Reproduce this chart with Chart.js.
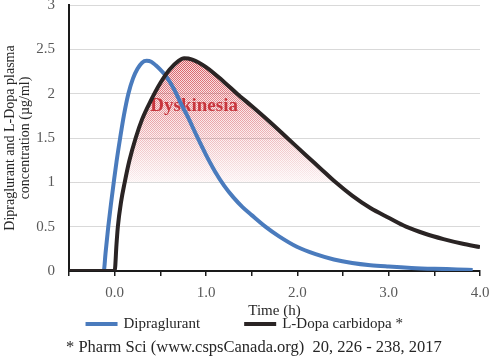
<!DOCTYPE html>
<html>
<head>
<meta charset="utf-8">
<script src="https://cdn.jsdelivr.net/npm/chart.js@4/dist/chart.umd.min.js"></script>
<style>
html,body{margin:0;padding:0;background:#fff;}
#wrap{width:490px;height:359px;position:relative;}
</style>
</head>
<body>
<div id="wrap"><canvas id="c" width="490" height="359"></canvas></div>
<script>
// ---- data ----
const seriesNames = ['Dipraglurant', 'L-Dopa carbidopa *'];
const dipraT = [-0.5,-0.12,-0.1,-0.07,-0.04,-0.01,0.02,0.06,0.1,0.15,0.2,0.25,0.3,0.35,0.4,0.45,0.5,0.56,0.65,0.73,0.8,0.9,1.0,1.1,1.2,1.3,1.4,1.5,1.65,1.8,2.0,2.2,2.4,2.6,2.8,3.0,3.25,3.5,3.75,3.92];
const dipraY = [0,0,0.2,0.5,0.76,1.0,1.23,1.5,1.75,2.0,2.17,2.28,2.35,2.37,2.36,2.32,2.27,2.2,2.05,1.88,1.74,1.52,1.31,1.12,0.96,0.83,0.72,0.63,0.5,0.39,0.27,0.19,0.13,0.09,0.065,0.05,0.035,0.025,0.018,0.012];
const ldopaT = [-0.5,0,0.02,0.035,0.07,0.11,0.16,0.23,0.3,0.4,0.5,0.6,0.7,0.76,0.85,1.0,1.2,1.34,1.5,1.7,1.89,2.1,2.25,2.42,2.6,2.8,3.0,3.19,3.4,3.6,3.8,4.0];
const ldopaY = [0,0,0.3,0.5,0.78,1.0,1.24,1.5,1.71,1.93,2.12,2.27,2.37,2.4,2.385,2.3,2.13,2.0,1.86,1.68,1.5,1.3,1.16,1.0,0.85,0.71,0.6,0.5,0.42,0.36,0.31,0.27];
const dyskinesiaThreshold = [1.0];
const dyskinesiaLabel = ['Dyskinesia'];
const dyskinesiaLabelPos = [0.87, 1.86];
const xTickValues = [0, 1, 2, 3, 4];
const xTickLabels = ['0.0', '1.0', '2.0', '3.0', '4.0'];
const yTickValues = [0, 0.5, 1, 1.5, 2, 2.5, 3];
const yTickLabels = ['0', '0.5', '1', '1.5', '2', '2.5', '3'];
const xAxisTitle = ['Time (h)'];
const yAxisTitle = ['Dipraglurant and L-Dopa plasma', 'concentration (µg/ml)'];
const footnote = ['* Pharm Sci (www.cspsCanada.org)  20, 226 - 238, 2017'];

const toPts = (t, y) => t.map((v, i) => ({x: v, y: y[i]}));
const FONT = "'Liberation Serif', 'Times New Roman', serif";

let patternCache = null;
function fillPattern(ctx) {
  const chart = ctx.chart;
  if (!chart.chartArea || !chart.scales.y) return 'rgba(210,60,70,0.3)';
  const key = chart.width + 'x' + chart.height + ':' + chart.chartArea.top + ':' + chart.chartArea.bottom;
  if (patternCache && patternCache.key === key) return patternCache.p;
  const w = chart.width, h = chart.height;
  const c = document.createElement('canvas');
  c.width = w; c.height = h;
  const g = c.getContext('2d');
  const img = g.createImageData(w, h);
  const yTop = chart.scales.y.getPixelForValue(2.4);
  const yBot = chart.scales.y.getPixelForValue(dyskinesiaThreshold[0]);
  for (let y = 0; y < h; y++) {
    let a = (yBot - y) / (yBot - yTop);
    a = Math.max(0, Math.min(1, a));
    const on = 0.06 + 0.72 * a;
    const off = 0.02 + 0.16 * a;
    for (let x = 0; x < w; x++) {
      const i = (y * w + x) * 4;
      const dot = ((x + y) % 2) === 0;
      img.data[i] = 205; img.data[i+1] = 40; img.data[i+2] = 50;
      img.data[i+3] = Math.round(255 * (dot ? on : off));
    }
  }
  g.putImageData(img, 0, 0);
  const p = chart.ctx.createPattern(c, 'no-repeat');
  patternCache = {key, p};
  return p;
}

const extraText = {
  id: 'extraText',
  afterDatasetDraw(chart, args) {
    if (args.index !== 2) return;
    const {ctx, scales} = chart;
    ctx.save();
    ctx.font = 'bold 19px ' + FONT;
    ctx.fillStyle = 'rgba(196,42,50,0.92)';
    ctx.textAlign = 'center';
    ctx.textBaseline = 'middle';
    ctx.fillText(dyskinesiaLabel[0], scales.x.getPixelForValue(dyskinesiaLabelPos[0]), scales.y.getPixelForValue(dyskinesiaLabelPos[1]));
    ctx.restore();
  },
  afterDraw(chart) {
    const {ctx} = chart;
    ctx.save();
    ctx.font = '16.5px ' + FONT;
    ctx.fillStyle = '#262626';
    ctx.textAlign = 'left';
    ctx.textBaseline = 'middle';
    ctx.fillText(footnote[0], 66, 348);
    ctx.restore();
  }
};

const BLUE = '#4a7bbd';
const DARK = '#2a2424';

new Chart(document.getElementById('c'), {
  type: 'line',
  data: {
    datasets: [
      {
        label: seriesNames[0],
        data: toPts(dipraT, dipraY),
        borderColor: BLUE, backgroundColor: BLUE,
        borderWidth: 4, pointRadius: 0, fill: false,
        cubicInterpolationMode: 'monotone', order: 2
      },
      {
        label: seriesNames[1],
        data: toPts(ldopaT, ldopaY),
        borderColor: DARK, backgroundColor: DARK,
        borderWidth: 4, pointRadius: 0, fill: false,
        cubicInterpolationMode: 'monotone', order: 1
      },
      {
        label: 'dyskinesia-zone',
        data: toPts(ldopaT, ldopaY),
        borderWidth: 0, borderColor: 'rgba(0,0,0,0)',
        backgroundColor: fillPattern,
        pointRadius: 0,
        fill: {target: {value: dyskinesiaThreshold[0]}, below: 'rgba(0,0,0,0)'},
        cubicInterpolationMode: 'monotone', order: 3
      }
    ]
  },
  options: {
    responsive: false,
    animation: false,
    events: [],
    layout: {padding: {left: 0, right: 0, top: 5, bottom: 17.5}},
    scales: {
      x: {
        type: 'linear', min: -0.5, max: 4.0,
        afterFit(s) { s.height = 31; s.paddingLeft = 0; s.paddingRight = 10; },
        ticks: {
          stepSize: 0.5, autoSkip: false, maxRotation: 0, padding: 8,
          color: '#595959', font: {family: FONT, size: 15},
          callback(v) { const i = xTickValues.indexOf(Math.round(v * 100) / 100); return i >= 0 ? xTickLabels[i] : ''; }
        },
        grid: {drawOnChartArea: false, drawTicks: true, tickLength: 5, color: '#1a1a1a', lineWidth: 1.5},
        border: {display: true, color: '#1a1a1a', width: 2},
        title: {display: true, text: xAxisTitle[0], color: '#262626', font: {family: FONT, size: 15}, padding: {top: 0, bottom: -18}}
      },
      y: {
        min: 0, max: 3,
        afterFit(s) { s.width = 69; s.paddingTop = 0; s.paddingBottom = 0; },
        ticks: {
          stepSize: 0.5, padding: 14, color: '#595959', font: {family: FONT, size: 15},
          callback(v) { const i = yTickValues.indexOf(Math.round(v * 100) / 100); return i >= 0 ? yTickLabels[i] : ''; }
        },
        grid: {drawTicks: false, color: (c) => c.tick && c.tick.value === 0 ? 'rgba(0,0,0,0)' : '#d9d9d9', lineWidth: 1},
        border: {display: true, color: '#1a1a1a', width: 2},
        title: {display: true, text: yAxisTitle, color: '#262626', font: {family: FONT, size: 14, lineHeight: 1.07}, padding: {top: 3, bottom: 0}}
      }
    },
    plugins: {
      tooltip: {enabled: false},
      legend: {
        position: 'bottom',
        title: {display: true, text: '', font: {size: 10, lineHeight: 1}, padding: {top: -41, bottom: 0}},
        labels: {
          padding: 45.5, boxWidth: 29, boxHeight: 1,
          color: '#262626', font: {family: FONT, size: 15},
          sort: (a, b) => a.datasetIndex - b.datasetIndex,
          filter: (item) => item.datasetIndex < 2,
          generateLabels(chart) {
            const items = Chart.defaults.plugins.legend.labels.generateLabels(chart);
            return items.map(it => Object.assign(it, {lineWidth: 3, fillStyle: it.strokeStyle, lineCap: 'butt', lineJoin: 'miter', lineDash: []}));
          }
        }
      }
    }
  },
  plugins: [extraText]
});
</script>
</body>
</html>
